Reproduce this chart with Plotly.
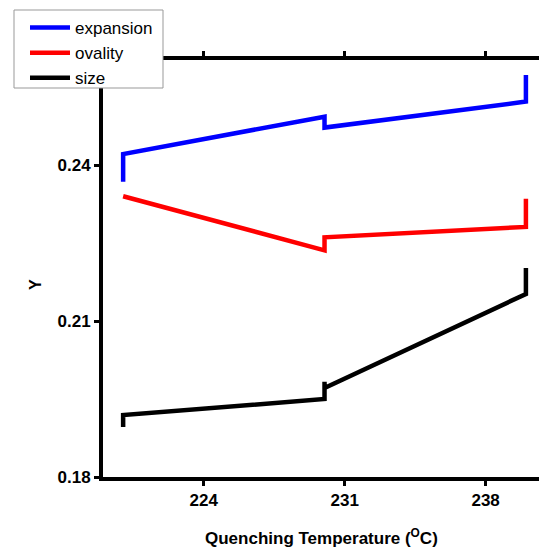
import plotly.graph_objects as go

# Data
expansion_x = [220, 220, 230, 230, 240, 240]
expansion_y = [0.2368, 0.2421, 0.2493, 0.2472, 0.2522, 0.2573]

ovality_x = [220, 230, 230, 240, 240]
ovality_y = [0.2340, 0.2236, 0.2261, 0.2281, 0.2335]

size_x = [220, 220, 230, 230, 230, 240, 240]
size_y = [0.1896, 0.1919, 0.1950, 0.1983, 0.1971, 0.2152, 0.2202]

x_ticks = [224, 231, 238]
y_ticks = [0.18, 0.21, 0.24]

W, H = 539, 549
L, R, T, B = 103, 0, 60, 72

fig = go.Figure()
for name, xs, ys, col in [("expansion", expansion_x, expansion_y, "#0000ff"),
                          ("ovality", ovality_x, ovality_y, "#ff0000"),
                          ("size", size_x, size_y, "#000000")]:
    fig.add_trace(go.Scatter(x=xs, y=ys, mode="lines", name=name,
                             line=dict(color=col, width=4.5)))

pw = W - L - R
ph = H - T - B


def px(x):
    return (x - L) / pw


def py(y):
    return (H - B - y) / ph


tickfont = dict(family="Liberation Sans, Arial", size=17, color="black", weight="bold")

fig.update_layout(
    width=W, height=H,
    margin=dict(l=L, r=R, t=T, b=B, autoexpand=False),
    paper_bgcolor="white", plot_bgcolor="white",
    showlegend=True,
    legend=dict(x=px(25), y=py(10), xanchor="left", yanchor="top",
                bgcolor="rgba(0,0,0,0)", borderwidth=0,
                font=dict(family="Liberation Sans, Arial", size=17, color="black"),
                tracegroupgap=0, itemwidth=40),
    shapes=[dict(type="rect", xref="paper", yref="paper",
                 x0=px(14), x1=px(163), y0=py(88), y1=py(10),
                 fillcolor="white", line=dict(color="#999999", width=1), layer="above")],
    xaxis=dict(range=[219, 240.65], tickvals=x_ticks, ticktext=[str(v) for v in x_ticks],
               showgrid=False, zeroline=False, showline=True, linecolor="black", linewidth=4,
               mirror="ticks", ticks="outside", ticklen=5, tickwidth=3, tickcolor="black",
               tickfont=tickfont),
    yaxis=dict(range=[0.18, 0.2602], tickvals=y_ticks, ticktext=["0.18", "0.21", "0.24"],
               showgrid=False, zeroline=False, showline=True, linecolor="black", linewidth=4,
               mirror=False, ticks="outside", ticklen=5, tickwidth=3, tickcolor="black",
               tickfont=tickfont),
    annotations=[
        dict(text="<b>Quenching Temperature (<sup>O</sup>C)</b>", xref="paper", yref="paper",
             x=0.5, y=-(537 - (H - B)) / ph, xanchor="center", yanchor="middle", showarrow=False,
             font=dict(family="Liberation Sans, Arial", size=17, color="black")),
        dict(text="<b>Y</b>", xref="paper", yref="paper",
             x=px(35), y=py(285), xanchor="center", yanchor="middle",
             showarrow=False, textangle=-90,
             font=dict(family="Liberation Sans, Arial", size=16, color="black")),
    ],
)

fig.write_html("out.html", config={"displayModeBar": False},
               post_script="document.body.style.margin='0px';document.body.style.padding='0px';")
